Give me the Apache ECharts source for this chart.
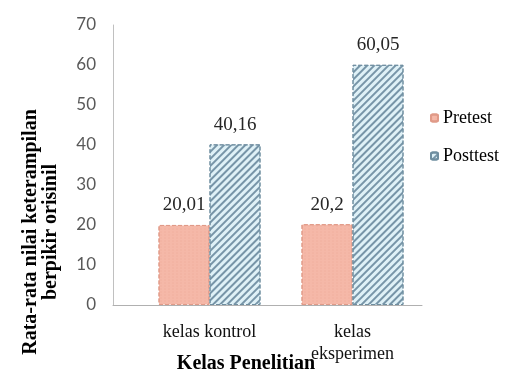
<!DOCTYPE html>
<html>
<head>
<meta charset="utf-8">
<script src="https://cdn.jsdelivr.net/npm/echarts@6/dist/echarts.min.js"></script>
<style>html,body{margin:0;padding:0;background:#fff}#c{width:510px;height:378px}</style>
</head>
<body>
<div id="c"></div>
<script>
const categories = ['kelas kontrol', 'kelas\neksperimen'];
const seriesNames = ['Pretest', 'Posttest'];
const pretest = [20.01, 20.2];
const posttest = [40.16, 60.05];
const yTicks = { min: 0, max: 70, interval: 10 };

const chart = echarts.init(document.getElementById('c'), null, { renderer: 'canvas' });
const serif = '"Liberation Serif", "Times New Roman", serif';
const labelCfg = {
  show: true, position: 'top', distance: 10,
  fontFamily: serif, fontSize: 19, color: '#262626',
  formatter: p => String(p.value).replace('.', ',')
};
chart.setOption({
  animation: false,
  backgroundColor: '#fff',
  grid: [
    { left: 138, right: 86, top: 25, bottom: 73, containLabel: false, outerBoundsMode: 'none' },
    { left: 113, right: 88, top: 25, bottom: 73, containLabel: false, outerBoundsMode: 'none' }
  ],
  legend: {
    orient: 'vertical', left: 425, top: 104, itemWidth: 7, itemHeight: 7, itemGap: 20,
    textStyle: { fontFamily: serif, fontSize: 18, color: '#000' },
    data: seriesNames
  },
  xAxis: [
    {
      type: 'category', data: categories, gridIndex: 0,
      axisLine: { show: false }, axisTick: { show: false },
      axisLabel: { fontFamily: serif, fontSize: 18, color: '#111', margin: 16, lineHeight: 22 },
      name: 'Kelas Penelitian', nameLocation: 'middle', nameGap: 49, nameMoveOverlap: false,
      nameTextStyle: { fontFamily: serif, fontSize: 20, fontWeight: 'bold', color: '#000', padding: [0, 70, 0, 0] }
    },
    {
      type: 'value', gridIndex: 1, min: 0, max: 1,
      axisLine: { show: true, lineStyle: { color: '#b0b0b0', width: 1 } },
      axisTick: { show: false }, axisLabel: { show: false }, splitLine: { show: false }
    }
  ],
  yAxis: [
    {
      type: 'value', gridIndex: 0, min: yTicks.min, max: yTicks.max, interval: yTicks.interval,
      offset: 25,
      axisLine: { show: true, lineStyle: { color: '#c0c0c0', width: 1 } },
      axisTick: { show: false }, splitLine: { show: false },
      axisLabel: { fontFamily: 'Lato, "Open Sans", sans-serif', fontSize: 17, color: '#595959', margin: 17 },
      name: 'Rata-rata nilai keterampilan\nberpikir orisinil', nameLocation: 'middle', nameRotate: 90, nameGap: 52, nameMoveOverlap: false,
      nameTextStyle: { fontFamily: serif, fontSize: 20, fontWeight: 'bold', color: '#000', lineHeight: 20, padding: [0, 134, 0, 0] }
    },
    { type: 'value', gridIndex: 1, show: false, min: 0, max: 1 }
  ],
  series: [
    {
      name: seriesNames[0], type: 'bar', data: pretest, xAxisIndex: 0, yAxisIndex: 0,
      barWidth: 51, barGap: '0%',
      itemStyle: {
        color: '#f5b8a8', borderColor: '#e09a88', borderWidth: 1, borderType: 'dashed',
        decal: { symbol: 'circle', symbolSize: 0.6, dashArrayX: [[2, 2]], dashArrayY: [2, 1], color: 'rgba(225,140,120,0.35)' }
      },
      label: labelCfg
    },
    {
      name: seriesNames[1], type: 'bar', data: posttest, xAxisIndex: 0, yAxisIndex: 0,
      barWidth: 51, barGap: '0%',
      itemStyle: {
        color: '#dff1f7', borderColor: '#6f8ea0', borderWidth: 1, borderType: 'dashed',
        decal: { symbol: 'rect', symbolSize: 1, dashArrayX: [1, 0], dashArrayY: [2, 2.5], rotation: -Math.PI / 4, color: '#7795a8' }
      },
      label: labelCfg
    }
  ]
});
</script>
</body>
</html>
